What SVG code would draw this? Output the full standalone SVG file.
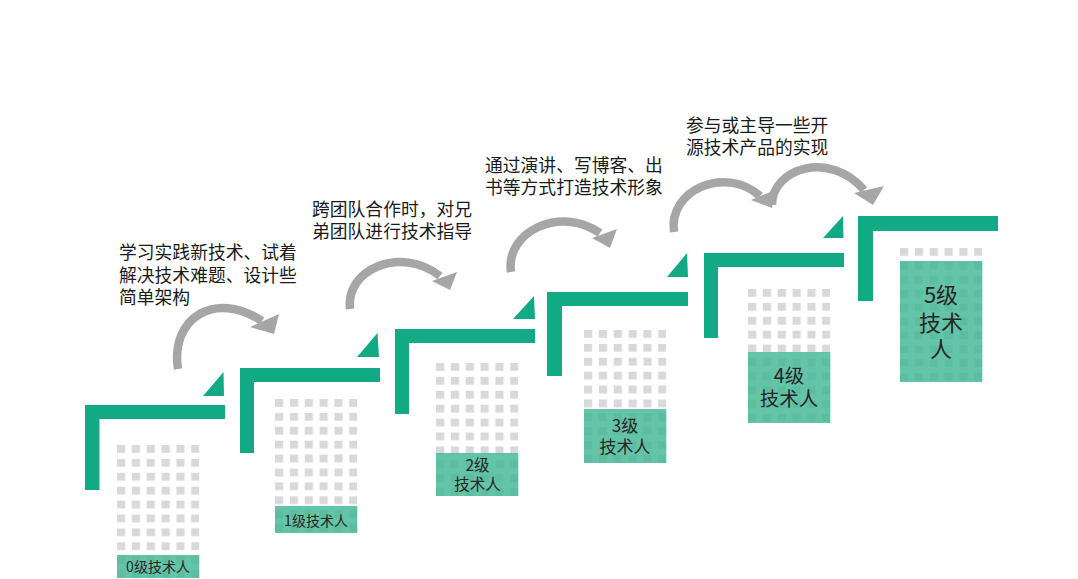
<svg xmlns="http://www.w3.org/2000/svg" width="1078" height="579" viewBox="0 0 1078 579">
<defs>
<style>
.bar{fill:#12AA85}
.arc{fill:none;stroke:#A6A6A6;stroke-width:8.5}
.head{fill:#A6A6A6}
.grid{fill:url(#win)}
.lab{fill:#3DB592;fill-opacity:0.8}
.t{font-family:"Noto Sans CJK SC","Noto Sans",sans-serif;fill:#1A1A1A;font-size:17.8px}
.lt{font-family:"Noto Sans CJK SC","Noto Sans",sans-serif;fill:#262626;text-anchor:middle}
</style>
<pattern id="win" width="14.85" height="13.9" patternUnits="userSpaceOnUse"><rect width="8.2" height="7.8" fill="#D9D9D9"/></pattern>
</defs>
<rect width="1078" height="579" fill="#FFFFFF"/>

<g id="connectors">
<path class="arc" d="M178,369 C170,318 215,290 262,321"/>
<polygon class="head" points="279,314 274,334 250,327"/>
<path class="arc" d="M350,309 C345,270 400,245 440,276"/>
<polygon class="head" points="457,272 450,290 432,281"/>
<path class="arc" d="M511,272 C505,232 560,205 600,233"/>
<polygon class="head" points="617,229 610,248 592,238"/>
<path class="arc" d="M674,232 C668,190 725,165 760,196"/>
<polygon class="head" points="775,190 772,208 751,200"/>
<path class="arc" d="M772,205 C772,168 830,150 864,190"/>
<polygon class="head" points="884,186 873,205 854,193"/>
</g>

<g id="step0">
<path class="bar" d="M85,405 h140 v14 h-125.5 v71 h-14.5 z"/>
<polygon class="bar" points="203,396 224,396 223.5,372"/>
<g transform="translate(117,445)">
<rect class="grid" width="82.3" height="133"/>
<rect class="lab" y="110" width="82.3" height="23"/>
</g>
<text class="lt" x="158" y="572" font-size="14">0级技术人</text>
</g>

<g id="step1">
<path class="bar" d="M240,368 h140 v14 h-126 v71 h-14 z"/>
<polygon class="bar" points="357,357 379,357 377.5,333"/>
<g transform="translate(275,399)">
<rect class="grid" width="82.3" height="134"/>
<rect class="lab" y="107" width="82.3" height="27"/>
</g>
<text class="lt" x="316" y="526" font-size="14">1级技术人</text>
</g>

<g id="step2">
<path class="bar" d="M395,329 h140 v14 h-126 v71 h-14 z"/>
<polygon class="bar" points="513,319 535,319 534,296"/>
<g transform="translate(436,363)">
<rect class="grid" width="82.3" height="133"/>
<rect class="lab" y="90" width="82.3" height="43"/>
</g>
<text class="lt" font-size="15.5"><tspan x="477.5" y="471">2级</tspan><tspan x="477.5" y="490">技术人</tspan></text>
</g>

<g id="step3">
<path class="bar" d="M547,292 h141 v14 h-126 v70 h-15 z"/>
<polygon class="bar" points="667,277 688,277 687,253"/>
<g transform="translate(584,330)">
<rect class="grid" width="82.3" height="133"/>
<rect class="lab" y="79" width="82.3" height="54"/>
</g>
<text class="lt" font-size="17"><tspan x="625" y="432">3级</tspan><tspan x="625" y="453">技术人</tspan></text>
</g>

<g id="step4">
<path class="bar" d="M704,253 h140 v14 h-126 v71 h-14 z"/>
<polygon class="bar" points="823,238 843.5,238 843,216"/>
<g transform="translate(748,289)">
<rect class="grid" width="82.3" height="134"/>
<rect class="lab" y="63" width="82.3" height="71"/>
</g>
<text class="lt" font-size="19.5"><tspan x="789" y="383">4级</tspan><tspan x="789" y="406">技术人</tspan></text>
</g>

<g id="step5">
<path class="bar" d="M858,216 h140 v15 h-125 v70 h-15 z"/>
<g transform="translate(900,248)">
<rect class="grid" width="82.3" height="134"/>
<rect class="lab" y="13" width="82.3" height="121"/>
</g>
<text class="lt" font-size="22"><tspan x="941" y="303">5级</tspan><tspan x="941" y="331">技术</tspan><tspan x="941" y="357">人</tspan></text>
</g>

<g id="text1">
<text class="t"><tspan x="119" y="259">学习实践新技术、试着</tspan><tspan x="119" y="282">解决技术难题、设计些</tspan><tspan x="119" y="304">简单架构</tspan></text>
</g>
<g id="text2">
<text class="t"><tspan x="312" y="216">跨团队合作时，对兄</tspan><tspan x="312" y="238">弟团队进行技术指导</tspan></text>
</g>
<g id="text3">
<text class="t"><tspan x="485" y="172">通过演讲、写博客、出</tspan><tspan x="485" y="194">书等方式打造技术形象</tspan></text>
</g>
<g id="text4">
<text class="t"><tspan x="686" y="132">参与或主导一些开</tspan><tspan x="686" y="154">源技术产品的实现</tspan></text>
</g>
</svg>
